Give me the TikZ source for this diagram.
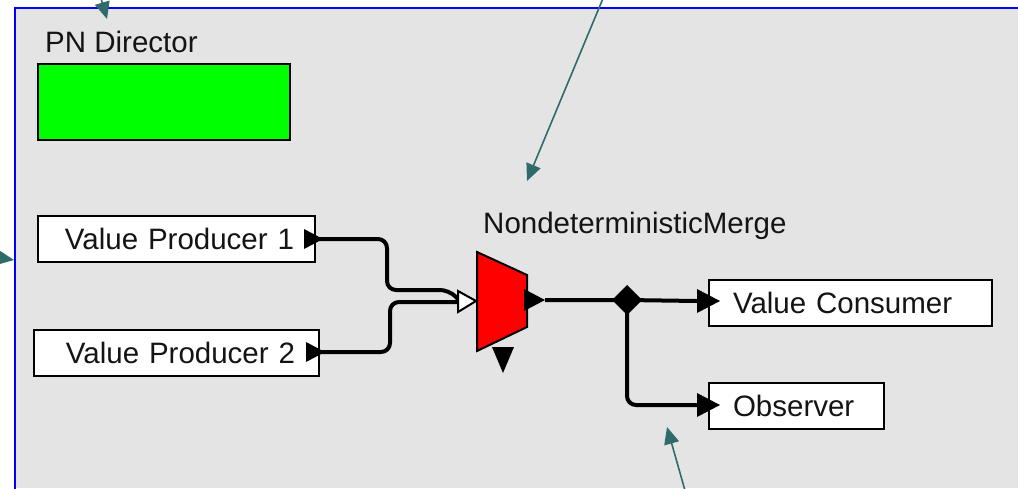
\documentclass[tikz,border=0pt]{standalone}
\usepackage{fontspec}
\setmainfont{Liberation Sans}
\usetikzlibrary{arrows.meta}
\definecolor{bgray}{HTML}{E4E4E4}
\definecolor{tealc}{HTML}{2F6B6B}
\definecolor{txt}{HTML}{141414}
\definecolor{pngreen}{HTML}{00FF00}
\begin{document}
\begin{tikzpicture}[x=1pt,y=-1pt,
  lbl/.style={font=\fontsize{29.5}{34}\selectfont, text=txt, inner sep=0pt},
  actorbox/.style={draw=black, line width=2pt, fill=white, font=\fontsize{29.5}{34}\selectfont, text=txt, minimum height=46pt, anchor=north west, inner ysep=0pt},
  conn/.style={draw=black, line width=4pt, rounded corners=9pt},
  porttri/.style={fill=black},
  annot/.style={draw=tealc, line width=1.6pt, -{Triangle[length=17pt,width=15pt]}}
]
\useasboundingbox (0,0) rectangle (1018,488);
% canvas
\fill[bgray] (15,8) rectangle (1018,488);
\draw[blue, line width=1.6pt] (15,490) -- (15,8) -- (1020,8);

% director
\node[lbl, anchor=base west] (dirlbl) at (45,52) {PN Director};
\node[draw=black, line width=2pt, fill=pngreen, minimum width=252pt, minimum height=76pt, anchor=north west] (director) at (37,63) {};

% producers
\node[actorbox, minimum width=277pt, text width=235pt, inner xsep=21pt, align=right] (vp1) at (37,215) {Value Producer 1};
\node[actorbox, minimum width=285pt, text width=237pt, inner xsep=24pt, align=right] (vp2) at (33,329) {Value Producer 2};

% consumers
\node[actorbox, minimum width=283pt, text width=235pt, inner xsep=24pt, align=left] (vc) at (708,279) {Value Consumer};
\node[actorbox, minimum width=175pt, text width=127pt, inner xsep=24pt, align=left] (obs) at (708,382) {Observer};

% merge actor
\node[lbl, anchor=base west] (mlbl) at (483,233) {NondeterministicMerge};
\draw[black, line width=2pt, fill=red] (477,252) -- (527,275) -- (527,327) -- (477,351) -- cycle;

% ports
\coordinate (vp1out) at (318,239);
\coordinate (vp2out) at (318,352);
\coordinate (minA) at (458,299);
\coordinate (minB) at (458,302);
\coordinate (mout) at (545,300);
\coordinate (vcin) at (697,301);
\coordinate (obsin) at (697,405);
\coordinate (rel) at (627,300);

% connectors
\draw[conn] (vp1out) -- (387,239) -- (387,290) -- (449,290) -- (minA);
\draw[conn] (vp2out) -- (390,352) -- (390,302) -- (minB);
\draw[conn] (mout) -- (rel) -- (vcin);
\draw[conn] (rel) -- (627,405) -- (obsin);

% port triangles
\fill[porttri] (304,229) -- (323,239) -- (304,249) -- cycle;
\fill[porttri] (306,342) -- (325,352) -- (306,362) -- cycle;
\draw[black, line width=2pt, fill=white] (458,291) -- (476,301) -- (458,312) -- cycle;
\fill[porttri] (524,289) -- (545,300) -- (524,311) -- cycle;
\fill[porttri] (492,347) -- (514,347) -- (503,373) -- cycle;
\fill[porttri] (612,300) -- (627,285) -- (642,300) -- (627,315) -- cycle;
\fill[porttri] (697,289) -- (720,301) -- (697,313) -- cycle;
\fill[porttri] (697,393) -- (720,405) -- (697,417) -- cycle;

% annotation arrows
\coordinate (a1s) at (100,-5);
\coordinate (a1t) at (107,19);
\coordinate (a2s) at (604,-4);
\coordinate (a2t) at (527,181);
\coordinate (a3s) at (-25,254);
\coordinate (a3t) at (14,260);
\coordinate (a4s) at (686,494);
\coordinate (a4t) at (667,427);
\draw[annot] (a1s) -- (a1t);
\draw[annot] (a2s) -- (a2t);
\draw[annot] (a3s) -- (a3t);
\draw[annot] (a4s) -- (a4t);
\end{tikzpicture}
\end{document}
